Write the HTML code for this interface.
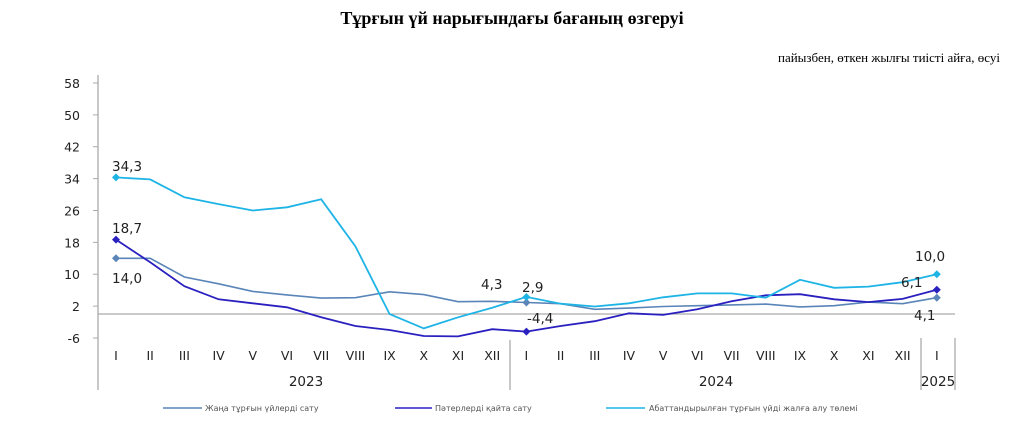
<!DOCTYPE html>
<html><head><meta charset="utf-8">
<style>
body{margin:0;background:#fff;width:1024px;height:438px;overflow:hidden}
svg{display:block}
</style></head>
<body>
<svg id="c" width="1024" height="438" xmlns="http://www.w3.org/2000/svg" font-family="'DejaVu Sans','Liberation Sans',sans-serif">
<text x="512" y="24" text-anchor="middle" font-family="'Liberation Serif',serif" font-weight="bold" font-size="18">Тұрғын үй нарығындағы бағаның өзгеруі</text>
<text x="1000" y="62" text-anchor="end" font-family="'Liberation Serif',serif" font-size="13">пайызбен, өткен жылғы тиісті айға, өсуі</text>
<g font-size="12.5" fill="#222" text-anchor="end" id="yt"></g>
<line x1="98" y1="75" x2="98" y2="390" stroke="#aaa" stroke-width="1.3"/>
<line x1="98" y1="314" x2="955" y2="314" stroke="#aaa" stroke-width="1.3"/>
<line x1="510" y1="340" x2="510" y2="390" stroke="#aaa" stroke-width="1.3"/>
<line x1="921" y1="338" x2="921" y2="390" stroke="#aaa" stroke-width="1.3"/>
<line x1="955" y1="338" x2="955" y2="390" stroke="#aaa" stroke-width="1.3"/>
<g id="xt" font-size="12.5" fill="#222" text-anchor="middle"></g>
<g font-size="13.5" fill="#222" text-anchor="middle">
<text x="306" y="386">2023</text><text x="716" y="386">2024</text><text x="938" y="386">2025</text>
</g>
<g id="ser"></g>
<g font-size="13.5" fill="#222">
<text x="112" y="171">34,3</text>
<text x="112" y="233">18,7</text>
<text x="112" y="283">14,0</text>
<text x="481" y="289">4,3</text>
<text x="522" y="292">2,9</text>
<text x="527" y="323">-4,4</text>
<text x="915" y="261">10,0</text>
<text x="901" y="287">6,1</text>
<text x="914" y="320">4,1</text>
</g>
<g font-size="8" fill="#555">
<line x1="163" y1="408" x2="202" y2="408" stroke="#5a85b8" stroke-width="1.5"/><text x="205" y="411">Жаңа тұрғын үйлерді сату</text>
<line x1="395" y1="408" x2="432" y2="408" stroke="#2a20c0" stroke-width="1.5"/><text x="435" y="411">Пәтерлерді қайта сату</text>
<line x1="606" y1="408" x2="645" y2="408" stroke="#1eb4e6" stroke-width="1.5"/><text x="649" y="411">Абаттандырылған тұрғын үйді жалға алу төлемі</text>
</g>
</svg>
<script>
var NS="http://www.w3.org/2000/svg";
function Y(v){return 83+(58-v)*3.984}
function X(i){return 116+i*34.2}
function el(t,a,p,txt){var e=document.createElementNS(NS,t);for(var k in a)e.setAttribute(k,a[k]);if(txt!=null)e.textContent=txt;document.getElementById(p).appendChild(e);return e}
[58,50,42,34,26,18,10,2,-6].forEach(function(v){el("text",{x:80,y:Y(v)+5},"yt",String(v));el("line",{x1:93,y1:Y(v),x2:98,y2:Y(v),stroke:"#aaa"},"yt")});
var m=["I","II","III","IV","V","VI","VII","VIII","IX","X","XI","XII"];
for(var i=0;i<25;i++)el("text",{x:X(i),y:360},"xt",m[i%12]);
var S=[
 ["#5a85b8",1.6,[14.0,14.0,9.3,7.6,5.7,4.8,4.0,4.1,5.6,4.9,3.1,3.2,2.9,2.6,1.2,1.5,1.9,2.1,2.3,2.5,1.8,2.1,3.0,2.6,4.1]],
 ["#2a20c0",1.8,[18.7,13,7,3.7,2.7,1.7,-0.8,-3,-4,-5.5,-5.6,-3.8,-4.4,-3,-1.8,0.2,-0.2,1.2,3.2,4.7,5.0,3.7,3.0,3.8,6.1]],
 ["#1eb4e6",1.8,[34.3,33.8,29.3,27.6,26.0,26.8,28.8,17,0.0,-3.6,-0.8,1.6,4.3,2.6,1.9,2.7,4.2,5.2,5.2,4.1,8.6,6.6,6.9,8.0,10.0]]
];
S.forEach(function(s){
 var p=s[2].map(function(v,i){return X(i).toFixed(1)+","+Y(v).toFixed(1)}).join(" ");
 el("polyline",{points:p,fill:"none",stroke:s[0],"stroke-width":s[1]},"ser");
 [0,12,24].forEach(function(i){var x=X(i),y=Y(s[2][i]);
  el("polygon",{points:(x-4)+","+y+" "+x+","+(y-4)+" "+(x+4)+","+y+" "+x+","+(y+4),fill:s[0]},"ser")});
});
</script>
</body></html>
